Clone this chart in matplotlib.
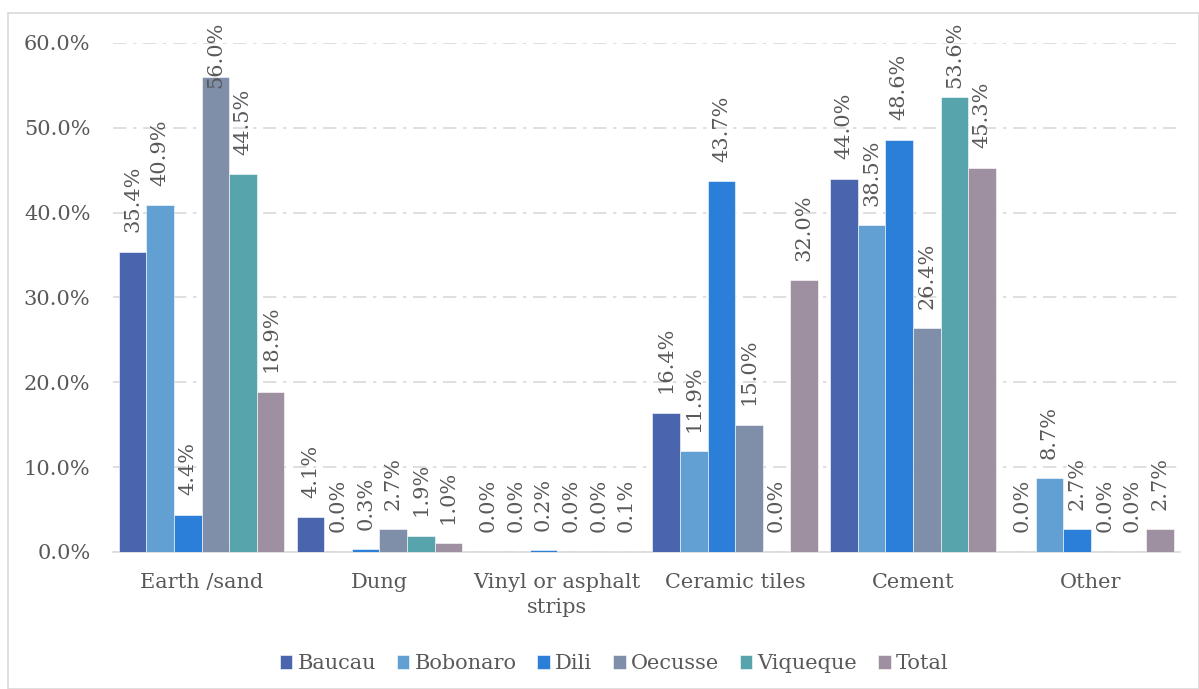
import matplotlib.pyplot as plt
import numpy as np
from matplotlib.patches import Rectangle

categories = ['Earth /sand', 'Dung', 'Vinyl or asphalt\nstrips', 'Ceramic tiles', 'Cement', 'Other']
regions = ['Baucau', 'Bobonaro', 'Dili', 'Oecusse', 'Viqueque', 'Total']
baucau = [35.4, 4.1, 0.0, 16.4, 44.0, 0.0]
bobonaro = [40.9, 0.0, 0.0, 11.9, 38.5, 8.7]
dili = [4.4, 0.3, 0.2, 43.7, 48.6, 2.7]
oecusse = [56.0, 2.7, 0.0, 15.0, 26.4, 0.0]
viqueque = [44.5, 1.9, 0.0, 0.0, 53.6, 0.0]
total = [18.9, 1.0, 0.1, 32.0, 45.3, 2.7]
series = [baucau, bobonaro, dili, oecusse, viqueque, total]
colors = ['#4a65ad', '#62a0d4', '#2b7fd8', '#7f8faa', '#58a4ad', '#9e8fa1']

plt.rcParams['font.family'] = ['DejaVu Serif']
text_color = '#595959'

fig = plt.figure(figsize=(11.99, 6.89), dpi=100)
fig.patches.append(Rectangle((8 / 1199, 0), 1 - 8 / 1199, 1 - 13 / 689,
                             transform=fig.transFigure, fill=False,
                             edgecolor='#d9d9d9', linewidth=1.2))
ax = fig.add_axes([0.094, 0.199, 0.890, 0.7386])

x = np.arange(len(categories))
width = 0.155
for i, (name, vals, c) in enumerate(zip(regions, series, colors)):
    pos = x + (i - 2.5) * width
    ax.bar(pos, vals, width, color=c, label=name, edgecolor='white', linewidth=0.4, zorder=3)
    for p, v in zip(pos, vals):
        # labels sit above the bar; tall bars get the label pulled down to fit
        ax.annotate(f'{v:.1f}%', (p, min(v, 52.4)), xytext=(0, 14),
                    textcoords='offset points', rotation=90, ha='center',
                    va='bottom', fontsize=15, color=text_color, zorder=4)

ax.set_xlim(-0.5, len(categories) - 0.5)
ax.set_ylim(0, 60)
ax.set_yticks(np.arange(0, 61, 10))
ax.set_yticklabels([f'{t:.1f}%' for t in np.arange(0, 61, 10)])
ax.set_xticks(x)
ax.set_xticklabels(categories, linespacing=1.45)
ax.tick_params(axis='both', length=0, labelsize=15, colors=text_color)
ax.tick_params(axis='x', pad=15)
ax.tick_params(axis='y', pad=16)

ax.yaxis.grid(True, color='#d9d9d9', linestyle=(0, (8, 4, 2, 4)), linewidth=1.2, zorder=0)
for s in ['top', 'right', 'left']:
    ax.spines[s].set_visible(False)
ax.spines['bottom'].set_color('#d9d9d9')
ax.spines['bottom'].set_linewidth(1.2)

ax.legend(loc='center', bbox_to_anchor=(0.47, -0.22), ncol=6, frameon=False,
          fontsize=15, labelcolor=text_color, handlelength=0.6, handleheight=0.6,
          handletextpad=0.25, columnspacing=1.0)

fig.savefig('out.png', dpi=100)
